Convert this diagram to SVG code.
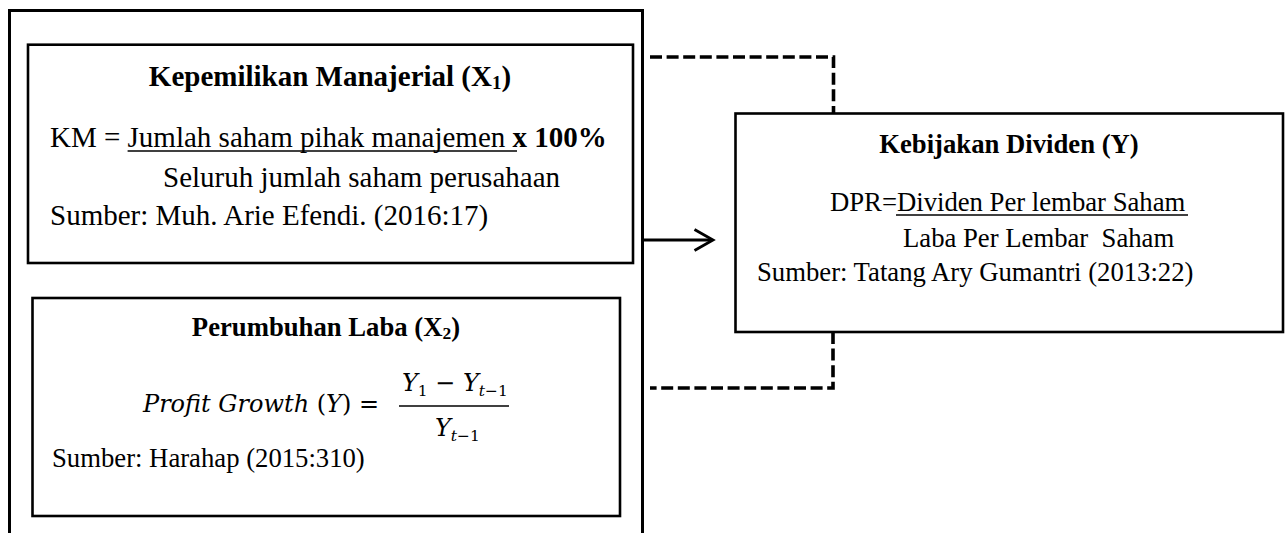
<svg xmlns="http://www.w3.org/2000/svg" width="1285" height="533" viewBox="0 0 1285 533">
  <style>
    .frame{fill:none;stroke:#000;stroke-width:3}
    .box{fill:#fff;stroke:#000;stroke-width:2.6}
    .t{font-family:"Liberation Serif","Times New Roman",serif;fill:#000}
    .k1{font-size:29px}
    .k2{font-size:26.7px}
    .b{font-weight:bold}
    .m{font-family:"DejaVu Serif","Liberation Serif",serif;font-size:24px;fill:#000}
    .it{font-style:italic}
    .sub{font-size:15.5px}
    .rule{stroke:#000;stroke-width:1.6}
    .dash{fill:none;stroke:#000;stroke-width:3.6;stroke-dasharray:12 4.6}
    .arrow{fill:none;stroke:#000;stroke-width:2.8}
  </style>
  <rect width="1285" height="533" fill="#fff"/>

  <!-- container around the two independent variables -->
  <g id="independen">
    <path class="frame" d="M9.5,540 V10.5 H642.5 V540"/>
  </g>

  <!-- X1 -->
  <g id="kepemilikan-manajerial">
    <rect class="box" x="28" y="44.7" width="605" height="218.3"/>
    <text class="t k1 b" x="330" y="86" text-anchor="middle">Kepemilikan Manajerial (X<tspan font-size="19" dy="3">1</tspan><tspan dy="-3">)</tspan></text>
    <text class="t k1" x="50" y="147">KM = Jumlah saham pihak manajemen <tspan class="b">x 100%</tspan></text>
    <line class="rule" x1="127.6" y1="151" x2="517" y2="151"/>
    <text class="t k1" x="163" y="187">Seluruh jumlah saham perusahaan</text>
    <text class="t k1" x="50" y="225">Sumber: Muh. Arie Efendi. (2016:17)</text>
  </g>

  <!-- X2 -->
  <g id="pertumbuhan-laba">
    <rect class="box" x="32.5" y="298" width="587.5" height="218"/>
    <text class="t k2 b" x="326" y="336" text-anchor="middle">Perumbuhan Laba (X<tspan font-size="17.5" dy="3">2</tspan><tspan dy="-3">)</tspan></text>
    <text class="m" x="143" y="412"><tspan class="it">Profit Growth </tspan>(<tspan class="it">Y</tspan>) =</text>
    <text class="m" y="391"><tspan class="it" x="402">Y</tspan><tspan class="sub" dy="5">1</tspan><tspan x="435" dy="-5">−</tspan><tspan class="it" x="463">Y</tspan><tspan class="sub it" dy="5">t</tspan><tspan class="sub">−1</tspan></text>
    <line class="rule" x1="399" y1="406" x2="509" y2="406"/>
    <text class="m" y="436"><tspan class="it" x="435">Y</tspan><tspan class="sub it" dy="5">t</tspan><tspan class="sub">−1</tspan></text>
    <text class="t k2" x="52" y="467">Sumber: Harahap (2015:310)</text>
  </g>

  <!-- Y -->
  <g id="kebijakan-dividen">
    <rect class="box" x="735.5" y="113.5" width="547.5" height="218.5"/>
    <text class="t k2 b" x="1009" y="153" text-anchor="middle">Kebijakan Dividen (Y)</text>
    <text class="t k2" x="830" y="211">DPR=Dividen Per lembar Saham</text>
    <line class="rule" x1="896" y1="215" x2="1188" y2="215"/>
    <text class="t k2" x="903" y="247" xml:space="preserve">Laba Per Lembar  Saham</text>
    <text class="t k2" x="757" y="281">Sumber: Tatang Ary Gumantri (2013:22)</text>
  </g>

  <!-- connectors -->
  <g id="connectors">
    <path class="dash" d="M650,57 H833.5 V113"/>
    <path class="dash" d="M833,332 V388 H650"/>
    <path class="arrow" d="M642.5,240 H712"/>
    <path class="arrow" d="M694.5,229.5 L713,240 L694.5,250.5"/>
  </g>
</svg>
